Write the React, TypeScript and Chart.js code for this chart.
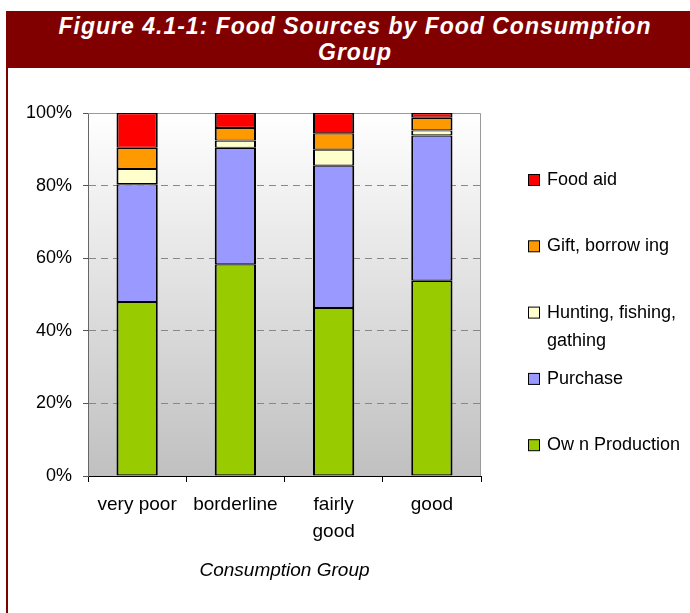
import React, { useEffect, useRef } from 'react';
import { Chart, registerables } from 'chart.js';

Chart.register(...registerables);

const categories: (string | string[])[] = ['very poor', 'borderline', ['fairly', 'good'], 'good'];
const ownProduction = [47.9, 58.3, 46.3, 53.8];
const purchase = [32.5, 32.1, 39.2, 40.0];
const hunting = [4.2, 2.0, 4.4, 1.4];
const gift = [5.8, 3.5, 4.5, 3.5];
const foodAid = [9.6, 4.1, 5.6, 1.3];
const seriesNames = ['Ow n Production', 'Purchase', 'Hunting, fishing, gathing', 'Gift, borrow ing', 'Food aid'];
const legendLines = [['Ow n Production'], ['Purchase'], ['Hunting, fishing,', 'gathing'], ['Gift, borrow ing'], ['Food aid']];
const seriesColors = ['#99cc00', '#9999ff', '#ffffcc', '#ff9900', '#ff0000'];
const seriesValues = [ownProduction, purchase, hunting, gift, foodAid];
const yMax = 100;
const yStep = 20;
const titleLines = ['Figure 4.1-1: Food Sources by Food Consumption', 'Group'];
const xAxisTitle = 'Consumption Group';

const FONT = '"Liberation Sans", Arial, sans-serif';

export default function App() {
  const ref = useRef<HTMLCanvasElement | null>(null);

  useEffect(() => {
    if (!ref.current) return;

    const bgPlugin = {
      id: 'plotBg',
      beforeDraw(chart: any) {
        const { ctx, chartArea: a } = chart;
        const g = ctx.createLinearGradient(0, a.top, 0, a.bottom);
        g.addColorStop(0, '#ffffff');
        g.addColorStop(1, '#c0c0c0');
        ctx.save();
        ctx.fillStyle = g;
        ctx.fillRect(a.left, a.top, a.right - a.left, a.bottom - a.top);
        ctx.restore();
      },
      beforeDatasetsDraw(chart: any) {
        const { ctx, chartArea: a } = chart;
        ctx.save();
        ctx.strokeStyle = '#999999';
        ctx.lineWidth = 1;
        ctx.beginPath();
        ctx.moveTo(a.left, a.top + 0.5);
        ctx.lineTo(a.right - 0.5, a.top + 0.5);
        ctx.lineTo(a.right - 0.5, a.bottom);
        ctx.stroke();
        ctx.restore();
      },
    };

    const legendPlugin = {
      id: 'sideLegend',
      afterDraw(chart: any) {
        const { ctx } = chart;
        const n = seriesNames.length;
        ctx.save();
        ctx.font = `18px ${FONT}`;
        ctx.textBaseline = 'middle';
        ctx.textAlign = 'left';
        for (let k = 0; k < n; k++) {
          const i = n - 1 - k;
          const y = 112 + k * 66.3;
          ctx.fillStyle = seriesColors[i];
          ctx.fillRect(520.5, y - 5.5, 11, 11);
          ctx.strokeStyle = '#000';
          ctx.lineWidth = 1;
          ctx.strokeRect(520.5, y - 5.5, 11, 11);
          ctx.fillStyle = '#000';
          legendLines[i].forEach((line, j) => ctx.fillText(line, 539, y + j * 28));
        }
        ctx.restore();
      },
    };

    const chart = new Chart(ref.current, {
      type: 'bar',
      data: {
        labels: categories as any,
        datasets: seriesValues.map((vals, i) => ({
          label: seriesNames[i],
          data: vals,
          backgroundColor: seriesColors[i],
          borderColor: '#000000',
          borderWidth: { top: 1.2, bottom: 1.2, left: 2, right: 2 },
          borderSkipped: false,
          barPercentage: 0.42,
          categoryPercentage: 1,
        })),
      },
      options: {
        responsive: false,
        animation: false,
        layout: { padding: { top: 45, right: 209, left: 0, bottom: 0 } },
        plugins: {
          legend: { display: false },
          tooltip: { enabled: false },
        },
        scales: {
          x: {
            stacked: true,
            offset: true,
            afterFit: (s: any) => { s.height = 137; },
            grid: { offset: true, drawOnChartArea: false, tickLength: 6, color: '#000000', tickColor: '#000000' },
            border: { color: '#000000', width: 1 },
            ticks: {
              color: '#000000',
              font: { family: FONT, size: 19, lineHeight: 27 / 19 },
              padding: 9.5,
              maxRotation: 0,
              autoSkip: false,
            },
            title: {
              display: true,
              text: xAxisTitle,
              color: '#000000',
              font: { family: FONT, size: 19, style: 'italic', lineHeight: 1.2 },
              padding: { top: 0, bottom: 30.6 },
            },
          },
          y: {
            stacked: true,
            min: 0,
            max: yMax,
            afterFit: (s: any) => { s.width = 80; },
            grid: {
              color: (c: any) => (c.tick && (c.tick.value === 0 || c.tick.value === yMax) ? 'rgba(0,0,0,0)' : '#888888'),
              tickColor: '#555555',
              tickLength: 5,
              lineWidth: 1,
            },
            border: { color: '#666666', width: 1, dash: [7, 5] },
            ticks: {
              stepSize: yStep,
              color: '#000000',
              font: { family: FONT, size: 18 },
              padding: 11,
              callback: (v: any) => `${v}%`,
            },
          },
        },
      },
      plugins: [bgPlugin, legendPlugin],
    });

    return () => chart.destroy();
  }, []);

  return (
    <div style={{ position: 'absolute', left: 0, top: 0, width: 690, height: 613, overflow: 'hidden', background: '#ffffff' }}>
      <div
        style={{
          position: 'absolute',
          left: 6,
          top: 11,
          width: 698,
          height: 57,
          boxSizing: 'border-box',
          paddingTop: 2.3,
          background: '#800000',
          color: '#ffffff',
          fontFamily: FONT,
          fontWeight: 'bold',
          fontStyle: 'italic',
          fontSize: 23,
          lineHeight: '26px',
          letterSpacing: '1px',
          textAlign: 'center',
          whiteSpace: 'nowrap',
        }}
      >
        {titleLines.map((t, i) => (
          <div key={i}>{t}</div>
        ))}
      </div>
      <div style={{ position: 'absolute', left: 6, top: 68, width: 2, height: 545, background: '#800000' }} />
      <canvas
        ref={ref}
        width={682}
        height={545}
        style={{ position: 'absolute', left: 8, top: 68, width: 682, height: 545 }}
      />
    </div>
  );
}
